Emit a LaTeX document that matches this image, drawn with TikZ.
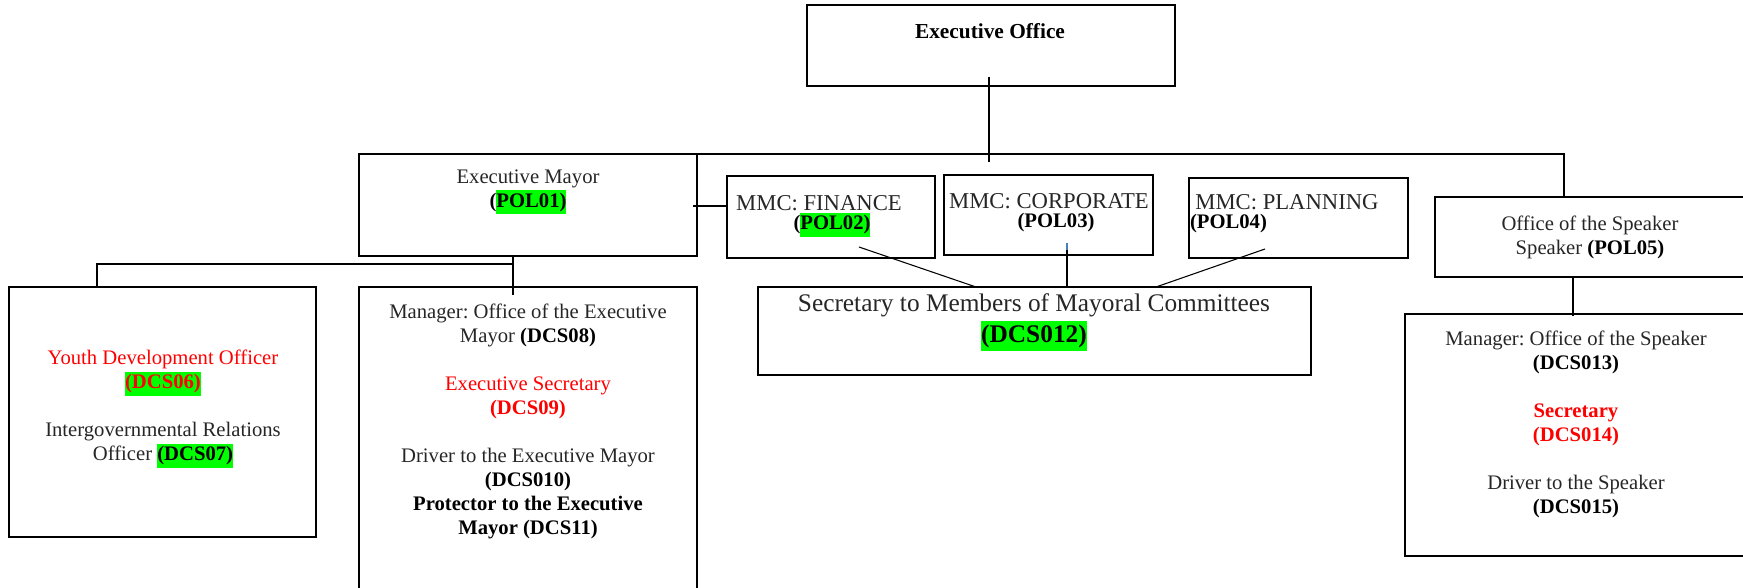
\documentclass[tikz,border=0pt]{standalone}
\usepackage{fontspec}
\setmainfont{Liberation Serif}
\usetikzlibrary{calc,fit}
\definecolor{hlgreen}{HTML}{00FF00}
\definecolor{hired}{HTML}{FF0000}
\definecolor{ink}{HTML}{262626}
\definecolor{tieblue}{HTML}{4A7EBB}
% green highlight behind a code, full line height
\newcommand{\hlg}[1]{{\setlength{\fboxsep}{0pt}\colorbox{hlgreen}{\strut#1}}}
% bold black code
\newcommand{\bk}[1]{\textbf{\textcolor{black}{#1}}}
\frenchspacing
\begin{document}
\begin{tikzpicture}[x=0.75pt,y=-0.75pt,
  frame/.style={draw=black,line width=1.5pt,inner sep=0pt,outer sep=0pt},
  thinframe/.style={frame,line width=1pt},
  link/.style={draw=black,line width=1.1pt},
  thinlink/.style={draw=black,line width=0.8pt},
  label/.style={inner sep=0pt,outer sep=0pt,align=center,text=ink,
    font=\fontsize{15.5}{18}\selectfont},
  mmc/.style={label,font=\fontsize{17}{18}\selectfont},
]
\useasboundingbox (0,0) rectangle (1743,588);

% ---- boxes ----
\node[frame,fit={(807,5)(1175,86)}] (eo) {};
\node[frame,fit={(359,154)(697,256)}] (em) {};
\node[thinframe,fit={(727,176)(935,258)}] (fin) {};
\node[thinframe,fit={(944,175)(1153,255)}] (corp) {};
\node[thinframe,fit={(1189,178)(1408,258)}] (plan) {};
\node[frame,fit={(1435,197)(1760,277)}] (spk) {};
\node[frame,fit={(758,287)(1311,375)}] (sec) {};
\node[frame,fit={(9,287)(316,537)}] (youth) {};
\node[frame,fit={(359,287)(697,620)}] (mgr) {};
\node[frame,fit={(1405,314)(1760,556)}] (spkm) {};

% ---- texts ----
\node[label,text=black,font=\fontsize{16}{18}\selectfont\bfseries] (eot) at (990,31) {Executive Office};
\node[label] (emt) at (528,192) {Executive Mayor\\\bk{(}\hlg{\bk{POL01)}}};

\node[mmc] (fin1) at (819,203) {MMC: FINANCE};
\node[label] (fin2) at (832,225) {\bk{(}\hlg{\bk{POL02)}}};
\node[mmc] (corp1) at (1049,201) {MMC: CORPORATE};
\node[label] (corp2) at (1056,223) {\bk{(POL03)}};
\node[mmc] (plan1) at (1287,202) {MMC: PLANNING};
\node[label,anchor=west] (plan2) at (1190,224) {\bk{(POL04)}};

\node[label,font=\fontsize{19}{23}\selectfont] (sect) at (1034,322.5)
  {Secretary to Members of Mayoral Committees\\\hlg{\bk{(DCS012)}}};

\node[label] (spkt) at (1590,237) {Office of the Speaker\\Speaker \bk{(POL05)}};
\node[label] (spkmt) at (1576,424) {Manager: Office of the Speaker\\\bk{(DCS013)}\\[18pt]
  \textcolor{hired}{\textbf{Secretary}}\\\textcolor{hired}{\textbf{(DCS014)}}\\[18pt]
  Driver to the Speaker\\\bk{(DCS015)}};

\node[label] (mgrt) at (528,421) {Manager: Office of the Executive\\Mayor \bk{(DCS08)}\\[18pt]
  \textcolor{hired}{Executive Secretary}\\\textcolor{hired}{\textbf{(DCS09)}}\\[18pt]
  Driver to the Executive Mayor\\\bk{(DCS010)}\\\bk{Protector to the Executive}\\\bk{Mayor (DCS11)}};

\node[label] (yt) at (163,409) {\textcolor{hired}{Youth Development Officer}\\
  \hlg{\textcolor{hired}{\textbf{(DCS06)}}}\\[18pt]
  Intergovernmental Relations\\Officer \hlg{\bk{(DCS07)}}};

% ---- connectors ----
\coordinate (busL) at (513,154);
\coordinate (busR) at (1564,154);
\draw[link] ($(eo.south)+(-2,-9)$) -- ($(eo.south)+(-2,76)$);
\draw[link] (busL) -- (busR) -- (busR |- spk.north);

\coordinate (emx) at ($(em.east)+(-4,1)$);
\draw[thinlink] (emx) -- (emx -| fin.west);

\coordinate (emdrop) at (513,264);
\coordinate (ytop) at (97,264);
\draw[link] (em.south -| emdrop) -- ($(mgr.north -| emdrop)+(0,8)$);
\draw[link] (emdrop) -- (ytop) -- (ytop |- youth.north);

\draw[thinlink] ($(fin.south)+(28,-11)$) -- ($(sec.north)+(-58.5,0)$);
\draw[draw=tieblue,line width=0.8pt] ($(corp.south)+(18.5,-12)$) -- ($(corp.south)+(18.5,-5)$);
\draw[thinlink] ($(corp.south)+(18.5,-5)$) -- ($(sec.north)+(32.5,0)$);
\draw[thinlink] ($(plan.south)+(-33.5,-9)$) -- ($(sec.north)+(121.5,0)$);

\coordinate (spkdrop) at (1573,277);
\draw[link] (spk.south -| spkdrop) -- ($(spkm.north -| spkdrop)+(0,2)$);
\end{tikzpicture}
\end{document}
